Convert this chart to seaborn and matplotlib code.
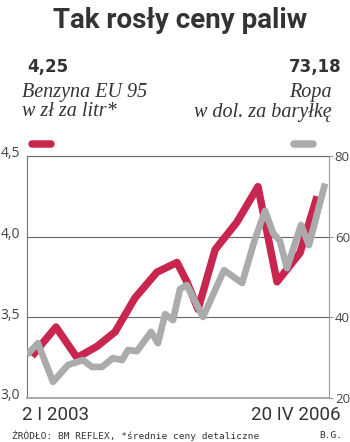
import matplotlib
matplotlib.use("Agg")
import matplotlib.pyplot as plt
from matplotlib.lines import Line2D
from matplotlib.transforms import ScaledTranslation
import pandas as pd
import seaborn as sns

# Benzyna EU 95, zł za litr
benzyna_daty = ["2003-01-22", "2003-04-29", "2003-07-23", "2003-10-12", "2003-12-24",
                "2004-03-13", "2004-06-10", "2004-08-30", "2004-10-09", "2004-11-23",
                "2005-01-31", "2005-04-29", "2005-07-23", "2005-10-08", "2006-01-09",
                "2006-03-19"]
benzyna_ceny = [3.26, 3.44, 3.25, 3.32, 3.41, 3.62, 3.78, 3.84, 3.72, 3.55,
                3.92, 4.09, 4.31, 3.72, 3.90, 4.25]

# Ropa, dolary za baryłkę
ropa_daty = ["2003-01-02", "2003-02-15", "2003-04-17", "2003-06-17", "2003-08-16",
             "2003-09-22", "2003-11-01", "2003-12-15", "2004-01-21", "2004-02-14",
             "2004-03-21", "2004-05-17", "2004-06-14", "2004-07-13", "2004-08-14",
             "2004-09-11", "2004-10-09", "2004-12-13", "2005-03-08", "2005-05-20",
             "2005-07-11", "2005-08-21", "2005-09-22", "2005-10-20", "2005-11-17",
             "2006-01-13", "2006-02-14", "2006-04-20"]
ropa_ceny = [30.7, 33.6, 24.0, 28.2, 29.4, 27.7, 27.7, 29.9, 29.4, 31.9,
             31.6, 36.4, 33.6, 40.8, 39.3, 47.0, 48.0, 40.1, 51.7, 48.5,
             59.4, 66.4, 60.9, 58.9, 52.2, 62.9, 57.9, 73.18]

lewe_ticki = [3.0, 3.5, 4.0, 4.5]
lewe_etykiety = ["3,0", "3,5", "4,0", "4,5"]
prawe_ticki = [20, 40, 60, 80]
prawe_etykiety = ["20", "40", "60", "80"]

CZERWONY = "#C8264E"
SZARY = "#ABABAB"
TEKST = "#333333"

benzyna = pd.DataFrame({"data": pd.to_datetime(benzyna_daty), "cena": benzyna_ceny})
ropa = pd.DataFrame({"data": pd.to_datetime(ropa_daty), "cena": ropa_ceny})

sns.set_theme(style="white")
plt.rcParams["font.family"] = ["Open Sans", "DejaVu Sans"]

fig = plt.figure(figsize=(3.5, 4.42), dpi=100)
ax = fig.add_axes([27 / 350, 1 - 398 / 442, 302 / 350, 242 / 442])
ax2 = ax.twinx()

sns.lineplot(data=benzyna, x="data", y="cena", ax=ax, color=CZERWONY,
             linewidth=5.4, solid_capstyle="butt", solid_joinstyle="round")
sns.lineplot(data=ropa, x="data", y="cena", ax=ax2, color=SZARY,
             linewidth=4.8, solid_capstyle="butt", solid_joinstyle="round")

ax.set_xlim(pd.Timestamp("2003-01-02"), pd.Timestamp("2006-05-06"))
ax.set_ylim(3.0, 4.5)
ax2.set_ylim(20, 80)
ax.set_xticks([])
for a in (ax, ax2):
    a.set_xlabel("")
    a.set_ylabel("")

ax.set_yticks(lewe_ticki)
ax.set_yticklabels(lewe_etykiety)
ax2.set_yticks(prawe_ticki)
ax2.set_yticklabels(prawe_etykiety)
ax2.grid(False)

ax.yaxis.grid(True, color="#666666", linewidth=0.8)
ax.set_axisbelow(True)
ax.tick_params(axis="y", length=0, pad=5, labelsize=10, labelcolor="#444444")
ax2.tick_params(axis="y", right=True, length=3, width=0.8, color="#999999",
                pad=1.2, labelsize=9.5, labelcolor="#444444")

shift = ScaledTranslation(0, 3 / 72, fig.dpi_scale_trans)
for lab in ax.get_yticklabels():
    lab.set_transform(lab.get_transform() + shift)

for name, sp in ax.spines.items():
    sp.set_visible(name in ("left", "top", "bottom"))
ax.spines["left"].set_color("#777777")
ax.spines["left"].set_linewidth(0.8)
ax.spines["top"].set_color("#666666")
ax.spines["top"].set_linewidth(0.8)
ax.spines["bottom"].set_color("#AAAAAA")
ax.spines["bottom"].set_linewidth(1.4)
for name, sp in ax2.spines.items():
    sp.set_visible(name == "right")
ax2.spines["right"].set_color("#999999")
ax2.spines["right"].set_linewidth(0.8)

# title and series headers
fig.text(180 / 350, 1 - 20 / 442, "Tak rosły ceny paliw", ha="center", va="center",
         fontsize=20, fontweight="bold", color=TEKST, family=["Roboto", "DejaVu Sans"])
fig.text(27 / 350, 1 - 67 / 442, "4,25", ha="left", va="center",
         fontsize=12, fontweight="bold", color=TEKST, family="DejaVu Sans")
fig.text(342 / 350, 1 - 67 / 442, "73,18", ha="right", va="center",
         fontsize=12, fontweight="bold", color=TEKST, family="DejaVu Sans")
serif = dict(fontsize=14.5, style="italic", color=TEKST, family="Liberation Serif")
fig.text(22 / 350, 1 - 93 / 442, "Benzyna EU 95", ha="left", va="center", **serif)
fig.text(22 / 350, 1 - 112 / 442, "w zł za litr*", ha="left", va="center", **serif)
fig.text(332 / 350, 1 - 93 / 442, "Ropa", ha="right", va="center", **serif)
fig.text(332 / 350, 1 - 112 / 442, "w dol. za baryłkę", ha="right", va="center", **serif)

# legend swatches
for x0, x1, c in ((32, 51, CZERWONY), (294, 313, SZARY)):
    fig.add_artist(Line2D([x0 / 350, x1 / 350], [1 - 144 / 442, 1 - 144 / 442],
                          transform=fig.transFigure, color=c, linewidth=5.4,
                          solid_capstyle="round"))

# date range and source
fig.text(22 / 350, 1 - 415 / 442, "2 I 2003", ha="left", va="center",
         fontsize=13.5, color=TEKST, family="Roboto")
fig.text(341 / 350, 1 - 415 / 442, "20 IV 2006", ha="right", va="center",
         fontsize=13.5, color=TEKST, family="Roboto")
fig.text(12 / 350, 1 - 436 / 442, "ŹRÓDŁO: BM REFLEX, *średnie ceny detaliczne",
         ha="left", va="center", fontsize=6.8, color=TEKST, family="DejaVu Sans Mono")
fig.text(342 / 350, 1 - 436 / 442, "B.G.", ha="right", va="center",
         fontsize=6.8, color=TEKST, family="DejaVu Sans Mono")

fig.savefig("out.png", dpi=100)
